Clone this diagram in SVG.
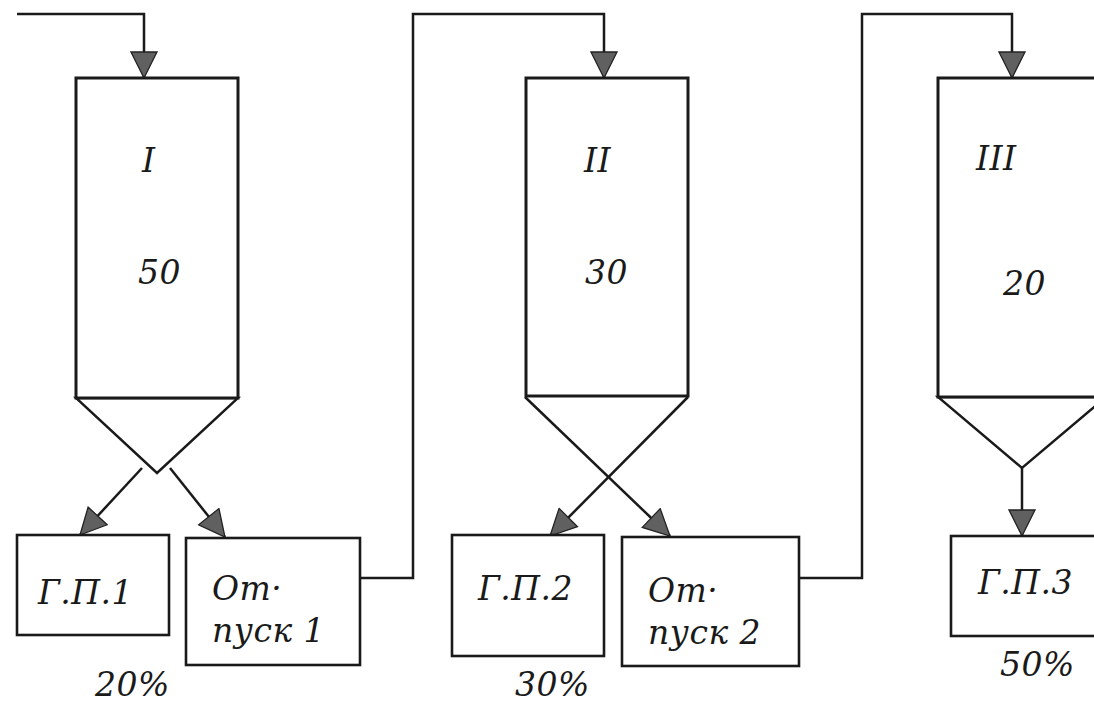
<svg xmlns="http://www.w3.org/2000/svg" width="1094" height="704" viewBox="0 0 1094 704">
<style>
.box{fill:#fff;stroke:#1a1a1a;stroke-width:2.6}
.tank{fill:#fff;stroke:#1a1a1a;stroke-width:3}
.cone{fill:#fff;stroke:#1a1a1a;stroke-width:2.4}
.ln{fill:none;stroke:#1a1a1a;stroke-width:2.5}
.t{font-family:"DejaVu Serif","Liberation Serif",serif;font-style:italic;font-size:33px;fill:#1a1a1a;letter-spacing:0.5px}
</style>
<defs>
<marker id="ah" markerUnits="userSpaceOnUse" viewBox="0 0 28 28" refX="27" refY="14" markerWidth="28" markerHeight="28" orient="auto">
<path d="M1,1 L27,14 L1,27 z" fill="#606060" stroke="#222" stroke-width="1.3"/>
</marker>
</defs>
<rect width="1094" height="704" fill="#fff"/>
<g id="connectors">
<polyline class="ln" points="17,14 144,14 144,78" marker-end="url(#ah)"/>
<line class="ln" x1="142" y1="468" x2="80" y2="535" marker-end="url(#ah)"/>
<line class="ln" x1="170" y1="468" x2="225" y2="537" marker-end="url(#ah)"/>
<polyline class="ln" points="360,578 413,578 413,14 604,14 604,78" marker-end="url(#ah)"/>
<line class="ln" x1="525" y1="397" x2="670" y2="536" marker-end="url(#ah)"/>
<line class="ln" x1="688" y1="397" x2="550" y2="536" marker-end="url(#ah)"/>
<polyline class="ln" points="799,578 862,578 862,14 1012,14 1012,78" marker-end="url(#ah)"/>
<line class="ln" x1="1022" y1="468" x2="1022" y2="536" marker-end="url(#ah)"/>
</g>
<g id="tank1">
<polygon class="cone" points="76,398 238,398 157,473"/>
<rect class="tank" x="76" y="78" width="162" height="320"/>
<text class="t" x="142" y="172">I</text>
<text class="t" x="138" y="284">50</text>
</g>
<g id="tank2">
<rect class="tank" x="526" y="78" width="162" height="318"/>
<text class="t" x="584" y="172">II</text>
<text class="t" x="585" y="284">30</text>
</g>
<g id="tank3">
<polygon class="cone" points="938,397 1106,397 1022,468"/>
<rect class="tank" x="938" y="78" width="168" height="319"/>
<text class="t" x="976" y="170">III</text>
<text class="t" x="1003" y="295">20</text>
</g>
<g id="gp1">
<rect class="box" x="17" y="535" width="152" height="100"/>
<text class="t" x="38" y="604">Г.П.1</text>
</g>
<g id="otpusk1">
<rect class="box" x="186" y="538" width="174" height="127"/>
<text class="t" x="212" y="600">От·</text>
<text class="t" x="212" y="642">пуск 1</text>
</g>
<g id="gp2">
<rect class="box" x="452" y="535" width="152" height="121"/>
<text class="t" x="478" y="600">Г.П.2</text>
</g>
<g id="otpusk2">
<rect class="box" x="622" y="537" width="177" height="129"/>
<text class="t" x="648" y="602">От·</text>
<text class="t" x="648" y="644">пуск 2</text>
</g>
<g id="gp3">
<rect class="box" x="951" y="536" width="150" height="100"/>
<text class="t" x="978" y="594">Г.П.3</text>
</g>
<g id="labels">
<text class="t" x="95" y="696">20%</text>
<text class="t" x="515" y="696">30%</text>
<text class="t" x="1000" y="676">50%</text>
</g>
</svg>
